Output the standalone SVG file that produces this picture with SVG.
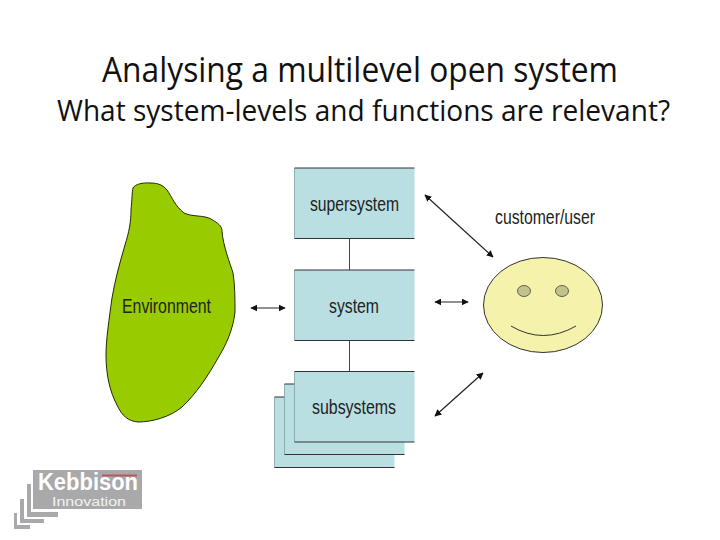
<svg xmlns="http://www.w3.org/2000/svg" width="720" height="540" viewBox="0 0 720 540">
<style>
.title{font-family:"Open Sans","Noto Sans",sans-serif;fill:#111}
.lbl{font-family:"Liberation Sans",Arial,sans-serif;font-size:20px;fill:#222}
.box{fill:#b9dfe3;stroke:none}
.edge{stroke:#333;stroke-width:1.2;fill:none}
.side{stroke:#7f9ea3;stroke-width:.8;fill:none}
.conn{stroke:#222;stroke-width:1.2;fill:none;marker-start:url(#a);marker-end:url(#a)}
</style>
<defs>
<marker id="a" viewBox="0 0 10 10" refX="9" refY="5" markerWidth="7" markerHeight="7" markerUnits="userSpaceOnUse" orient="auto-start-reverse"><path d="M0 0L10 5L0 10Z" fill="#111"/></marker>
<g id="boxshape"><rect class="box" width="120" height="70.500"/><path class="side" d="M0 0V70.500"/><path class="edge" d="M0 0H120M0 70.500H120"/></g>
</defs>
<rect width="720" height="540" fill="#fff"/>
<g id="titles">
<text class="title" x="102" y="82" font-size="34" textLength="516" lengthAdjust="spacingAndGlyphs">Analysing a multilevel open system</text>
<text class="title" x="57" y="121" font-size="30" textLength="613" lengthAdjust="spacingAndGlyphs">What system-levels and functions are relevant?</text>
</g>
<g id="connectors">
<path d="M349.500 238V270M349.500 340V371.500" stroke="#444" stroke-width="1" fill="none"/>
<path class="conn" d="M251 308H285"/>
<path class="conn" d="M435 302H468"/>
<path class="conn" d="M425 195L493 257"/>
<path class="conn" d="M435 416L483 373"/>
</g>
<g id="environment">
<path d="M133 188C135 184 143 182.500 150 183C158 183 163 185 167 190C172 197 175 206 184 213C192 217 204 215 211 219C218 223 222 226 222 231C223 246 230 263 233 273C235 285 235 300 235 312C233 330 226 345 218 358C208 376 196 394 182 407C170 417 152 422 138 422C128 421 122 416 117 405C110 392 106 375 106 355C106 340 109 320 112 298C115 280 120 262 125 245C129 232 131 222 131 210C132 200 132 192 133 188Z" fill="#99cc00" stroke="#1f2a00" stroke-width="1"/>
<text class="lbl" x="122" y="313" textLength="89" lengthAdjust="spacingAndGlyphs">Environment</text>
</g>
<g id="subsystems">
<use href="#boxshape" x="274.500" y="397"/>
<use href="#boxshape" x="284.500" y="384"/>
<use href="#boxshape" x="294.500" y="371.500"/>
<text class="lbl" x="312" y="414" textLength="84" lengthAdjust="spacingAndGlyphs">subsystems</text>
</g>
<g id="system">
<use href="#boxshape" x="294.500" y="270"/>
<text class="lbl" x="329" y="313" textLength="50" lengthAdjust="spacingAndGlyphs">system</text>
</g>
<g id="supersystem">
<use href="#boxshape" x="294.500" y="168"/>
<text class="lbl" x="310" y="211" textLength="89" lengthAdjust="spacingAndGlyphs">supersystem</text>
</g>
<g id="customer">
<text class="lbl" x="495" y="224" textLength="100" lengthAdjust="spacingAndGlyphs">customer/user</text>
<ellipse cx="543" cy="305" rx="59.500" ry="47.500" fill="#f5f2ab" stroke="#333" stroke-width="1"/>
<ellipse cx="524" cy="291" rx="6.500" ry="5.500" fill="#c3c28a" stroke="#444" stroke-width=".8"/>
<ellipse cx="562" cy="291" rx="6.500" ry="5.500" fill="#c3c28a" stroke="#444" stroke-width=".8"/>
<path d="M511 326Q543 345 576 326" fill="none" stroke="#333" stroke-width="1"/>
</g>
<g id="logo">
<rect x="33" y="470" width="109" height="39" fill="#a9a9ab"/>
<rect x="102" y="474.500" width="35" height="2" fill="#b55a5c"/>
<path d="M27 484H31V512H58V517H27ZM20 499H24V519H44V523H20ZM14 513H17V525H30V529H14Z" fill="#a9a9ab"/>
<text x="38" y="490" font-family="'Liberation Sans',sans-serif" font-weight="700" font-size="23" fill="#fff" textLength="100" lengthAdjust="spacingAndGlyphs">Kebbison</text>
<text x="52" y="505.500" font-family="'Liberation Sans',sans-serif" font-size="12" fill="#f2f2f2" textLength="74" lengthAdjust="spacingAndGlyphs">Innovation</text>
</g>
</svg>
